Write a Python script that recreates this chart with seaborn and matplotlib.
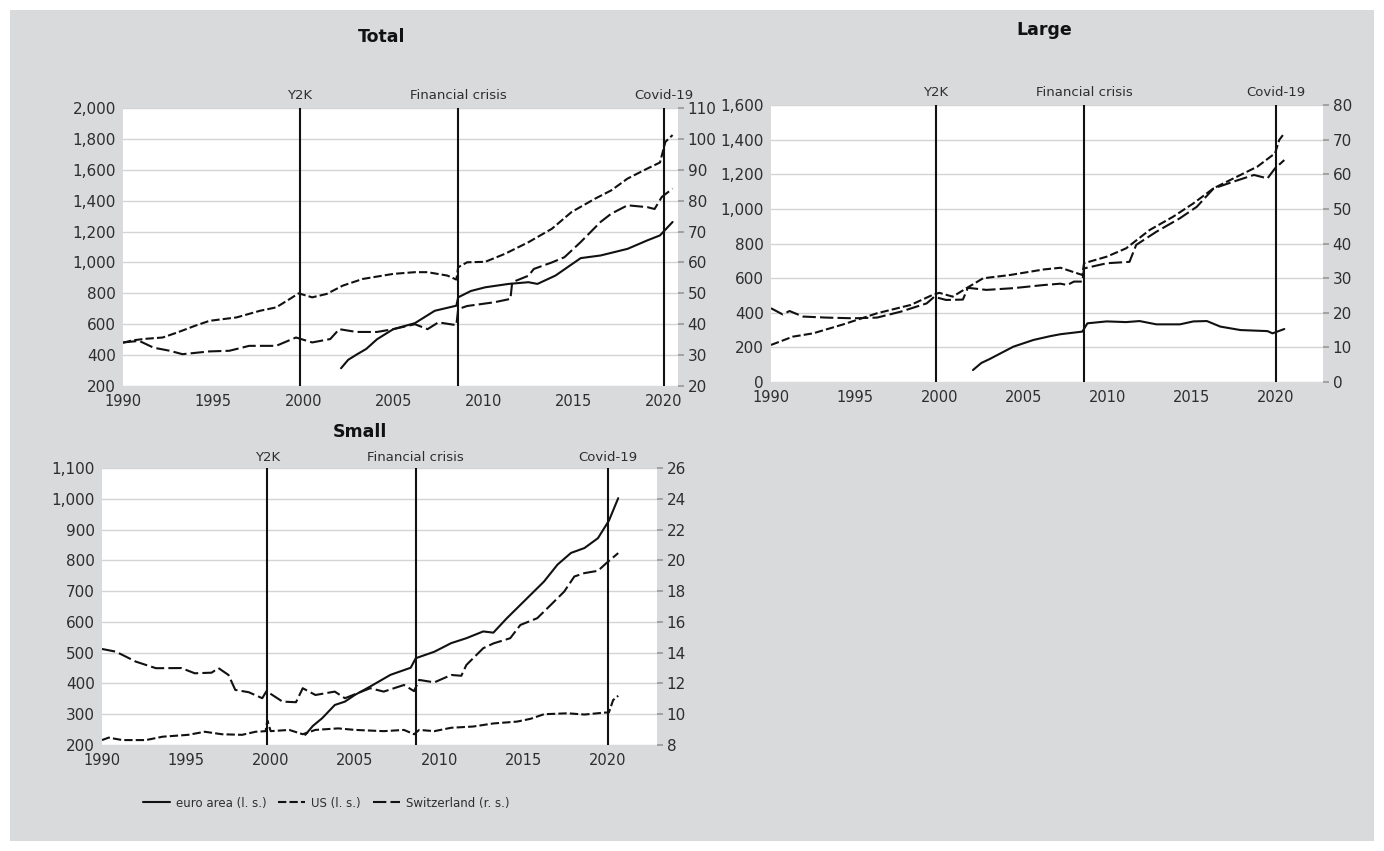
import matplotlib
matplotlib.use("Agg")
import matplotlib.pyplot as plt
import seaborn as sns
import pandas as pd
from matplotlib.lines import Line2D
from matplotlib.patches import Rectangle
from matplotlib.ticker import FuncFormatter

# ---- data ----
# Total
tot_ea_x = [2002.1, 2002.5, 2003.0, 2003.5, 2004.1, 2005.0, 2006.2, 2007.3, 2008.5, 2008.6, 2009.3,
            2010.1, 2011.4, 2012.5, 2013.0, 2014.0, 2015.4, 2016.5, 2018.0, 2019.1, 2019.8, 2020.5]
tot_ea_y = [315, 370, 406, 440, 503, 568, 607, 687, 720, 774, 815,
            839, 861, 872, 861, 915, 1028, 1045, 1088, 1143, 1175, 1262]
tot_us_x = [1990.0, 1990.5, 1991.2, 1992.2, 1993.0, 1994.0, 1994.8, 1996.3, 1997.6, 1998.5, 1999.25,
            1999.75, 2000.5, 2001.3, 2002.2, 2003.3, 2005.0, 2006.2, 2006.9, 2008.0, 2008.5, 2008.6,
            2009.1, 2010.1, 2011.2, 2012.5, 2013.8, 2014.9, 2016.2, 2017.1, 2018.0, 2019.1, 2019.8,
            2020.1, 2020.5]
tot_us_y = [480, 495, 505, 514, 546, 590, 622, 644, 687, 709, 763,
            800, 774, 796, 850, 893, 926, 937, 937, 915, 889, 969,
            1001, 1004, 1056, 1131, 1218, 1327, 1413, 1467, 1543, 1608, 1647,
            1781, 1825]
tot_ch_x = [1990.0, 1990.9, 1991.7, 1992.6, 1993.3, 1994.8, 1995.9, 1997.0, 1998.5, 1999.6, 2000.5,
            2001.5, 2002.0, 2002.95, 2004.1, 2005.0, 2006.2, 2006.9, 2007.5, 2008.5, 2008.6, 2009.1,
            2010.6, 2011.5, 2011.6, 2012.5, 2012.8, 2013.8, 2014.5, 2015.4, 2016.5, 2017.1, 2018.0,
            2019.1, 2019.5, 2019.9, 2020.5]
tot_ch_y = [34.1, 34.6, 32.4, 31.4, 30.3, 31.2, 31.4, 33.0, 33.0, 35.7, 34.1,
            35.2, 38.4, 37.5, 37.5, 38.4, 40.0, 38.4, 40.6, 39.7, 44.9, 45.9,
            47.1, 48.2, 53.6, 55.7, 57.9, 60.0, 61.7, 66.6, 73.1, 75.8, 78.5,
            77.9, 77.3, 81.2, 83.9]

# Large
lg_ea_x = [2002.0, 2002.5, 2003.0, 2004.4, 2005.6, 2006.6, 2007.2, 2008.5, 2008.8, 2009.95, 2011.1,
           2011.9, 2012.9, 2014.3, 2015.1, 2015.9, 2016.7, 2017.9, 2019.5, 2019.8, 2020.5]
lg_ea_y = [69, 110, 133, 204, 243, 265, 276, 291, 339, 350, 346,
           352, 333, 333, 350, 352, 320, 300, 294, 281, 306]
lg_us_x = [1990.0, 1991.3, 1992.5, 1994.3, 1996.3, 1998.3, 1999.6, 2000.0, 2000.8, 2001.6, 2002.6,
           2004.2, 2006.2, 2007.2, 2008.5, 2008.6, 2009.95, 2011.1, 2012.5, 2013.9, 2015.1, 2016.3,
           2017.5, 2018.9, 2019.95, 2020.2, 2020.5]
lg_us_y = [214, 262, 281, 333, 397, 445, 503, 515, 493, 541, 599,
           618, 650, 660, 618, 686, 724, 772, 878, 955, 1032, 1119,
           1177, 1244, 1321, 1398, 1437]
lg_ch_x = [1990.0, 1990.7, 1991.1, 1991.9, 1993.3, 1994.9, 1996.3, 1997.7, 1999.25, 1999.7, 2000.4,
           2001.4, 2001.7, 2002.8, 2004.4, 2006.2, 2007.2, 2007.6, 2008.0, 2008.5, 2008.6, 2009.95,
           2011.3, 2011.7, 2012.9, 2014.3, 2015.3, 2016.3, 2017.5, 2018.7, 2019.5, 2019.95, 2020.5]
lg_ch_y = [21.3, 19.5, 20.5, 18.9, 18.6, 18.4, 18.6, 20.3, 22.7, 24.6, 23.7,
           23.8, 27.2, 26.6, 27.1, 28.0, 28.4, 28.0, 29.0, 29.0, 32.8, 34.3,
           34.7, 39.6, 43.4, 47.3, 50.6, 55.9, 57.9, 59.8, 58.8, 61.7, 64.1]

# Small
sm_ea_x = [2002.05, 2002.5, 2003.05, 2003.8, 2004.4, 2005.0, 2005.9, 2007.1, 2008.3, 2008.6, 2009.7,
           2010.7, 2011.6, 2012.6, 2013.2, 2014.0, 2015.0, 2016.2, 2017.0, 2017.8, 2018.6, 2019.4,
           2020.05, 2020.6]
sm_ea_y = [233, 262, 287, 330, 341, 363, 390, 428, 451, 482, 503,
           531, 547, 569, 565, 612, 666, 731, 786, 824, 840, 872,
           929, 1002]
sm_us_x = [1990.0, 1990.4, 1991.2, 1992.6, 1993.6, 1995.1, 1996.1, 1997.1, 1998.3, 1999.1, 1999.7,
           1999.8, 2000.0, 2001.1, 2001.9, 2002.65, 2004.0, 2005.0, 2006.7, 2007.9, 2008.5, 2008.8,
           2009.7, 2010.7, 2012.0, 2013.2, 2014.6, 2015.4, 2016.2, 2017.6, 2018.6, 2019.75, 2020.05,
           2020.3, 2020.6]
sm_us_y = [216, 224, 216, 216, 227, 233, 243, 235, 233, 243, 245,
           280, 245, 249, 235, 249, 254, 249, 245, 249, 235, 249,
           245, 256, 260, 270, 276, 285, 300, 303, 299, 305, 306,
           346, 360]
sm_ch_x = [1990.0, 1990.8, 1991.2, 1992.0, 1993.2, 1994.7, 1995.5, 1996.5, 1996.9, 1997.5, 1997.9,
           1998.7, 1999.5, 1999.75, 2000.7, 2001.5, 2001.9, 2002.65, 2003.8, 2004.4, 2005.0, 2005.9,
           2006.7, 2007.9, 2008.5, 2008.8, 2009.7, 2010.7, 2011.3, 2011.6, 2012.6, 2013.2, 2014.2,
           2014.8, 2015.8, 2016.6, 2017.4, 2018.0, 2018.6, 2019.4, 2019.9, 2020.6]
sm_ch_y = [14.24, 14.07, 13.86, 13.42, 12.99, 13.0, 12.66, 12.7, 13.0, 12.55, 11.58,
           11.43, 11.04, 11.5, 10.82, 10.78, 11.69, 11.25, 11.47, 11.04, 11.3, 11.69,
           11.47, 11.9, 11.5, 12.23, 12.07, 12.55, 12.5, 13.2, 14.29, 14.6, 14.94,
           15.8, 16.24, 17.1, 17.97, 18.95, 19.17, 19.32, 19.82, 20.47]

events = ['Y2K', 'Financial crisis', 'Covid-19']
event_years = [1999.8, 2008.6, 2020.0]
legend_labels = ['euro area (l. s.)', 'US (l. s.)', 'Switzerland (r. s.)']

W, H = 1384, 851
BG = '#d9dadc'
TXT = '#2e2e2e'
LW = 1.5
styles = {'ea': '-', 'us': (0, (4.0, 1.5)), 'ch': (0, (6.4, 2.0))}


def px_rect(l, t, r, b):
    return [l / W, 1 - b / H, (r - l) / W, (b - t) / H]


def draw_line(ax, x, y, style):
    df = pd.DataFrame({'year': x, 'value': y})
    sns.lineplot(data=df, x='year', y='value', ax=ax, color='#111111', linewidth=LW,
                 linestyle=style, sort=False, estimator=None, legend=False)


def panel(fig, rect, left_lim, left_ticks, right_lim, right_ticks, xmax, series, label_off):
    ax = fig.add_axes(rect)
    ax.set_facecolor('white')
    ea, us, ch = series
    draw_line(ax, ea[0], ea[1], styles['ea'])
    draw_line(ax, us[0], us[1], styles['us'])
    ax.set_ylim(*left_lim)
    ax.set_yticks(left_ticks)
    ax.yaxis.set_major_formatter(FuncFormatter(lambda v, p: f'{int(v):,}'))
    ax.set_xlim(1990, xmax)
    ax.set_xticks(range(1990, 2021, 5))
    ax.yaxis.grid(True, color='#d4d4d4', linewidth=1.0)
    ax.xaxis.grid(False)
    ax.set_axisbelow(True)
    ax.tick_params(axis='y', length=0, pad=5, labelsize=11, labelcolor=TXT)
    ax.tick_params(axis='x', direction='in', length=4, color='#bbbbbb', pad=5.5,
                   labelsize=10.5, labelcolor=TXT)
    ax.set_xlabel('')
    ax.set_ylabel('')
    for s in ax.spines.values():
        s.set_visible(False)

    ax2 = ax.twinx()
    draw_line(ax2, ch[0], ch[1], styles['ch'])
    ax2.set_ylim(*right_lim)
    ax2.set_yticks(right_ticks)
    ax2.tick_params(axis='y', length=4, color='#9a9a9a', pad=3, labelsize=11, labelcolor=TXT)
    ax2.set_ylabel('')
    ax2.patch.set_visible(False)
    for s in ax2.spines.values():
        s.set_visible(False)

    for name, yr in zip(events, event_years):
        ax.axvline(yr, color='#111111', linewidth=1.5, zorder=5)
        ax.annotate(name, xy=(yr, 1.0), xycoords=('data', 'axes fraction'),
                    xytext=(0, label_off), textcoords='offset points',
                    ha='center', va='bottom', fontsize=9.5, color=TXT)
    return ax


sns.set_theme(style='white')
plt.rcParams['font.family'] = ['DejaVu Sans']

fig = plt.figure(figsize=(W / 100, H / 100), dpi=100, facecolor='white')
fig.patches.append(Rectangle((10 / W, 10 / H), (W - 20) / W, (H - 20) / H,
                             transform=fig.transFigure, facecolor=BG, edgecolor='none', zorder=-10))

panel(fig, px_rect(123, 108, 678, 386), (200, 2000), range(200, 2001, 200),
      (20, 110), range(20, 111, 10), 2020.8,
      [(tot_ea_x, tot_ea_y), (tot_us_x, tot_us_y), (tot_ch_x, tot_ch_y)], 4)
panel(fig, px_rect(771, 105, 1323, 382), (0, 1600), range(0, 1601, 200),
      (0, 80), range(0, 81, 10), 2022.8,
      [(lg_ea_x, lg_ea_y), (lg_us_x, lg_us_y), (lg_ch_x, lg_ch_y)], 4)
panel(fig, px_rect(102, 468, 657, 745), (200, 1100), range(200, 1101, 100),
      (8, 26), range(8, 27, 2), 2022.9,
      [(sm_ea_x, sm_ea_y), (sm_us_x, sm_us_y), (sm_ch_x, sm_ch_y)], 3)

fig.text(382 / W, 1 - 37 / H, 'Total', ha='center', va='center', fontsize=12.5,
         fontweight='bold', color='#111111')
fig.text(1044 / W, 1 - 30 / H, 'Large', ha='center', va='center', fontsize=12.5,
         fontweight='bold', color='#111111')
fig.text(360 / W, 1 - 432 / H, 'Small', ha='center', va='center', fontsize=12.5,
         fontweight='bold', color='#111111')

handles = [Line2D([], [], color='#111111', linewidth=LW, linestyle=styles[k]) for k in ['ea', 'us', 'ch']]
fig.legend(handles, legend_labels, loc='center', bbox_to_anchor=(326 / W, 1 - 803 / H),
           ncol=3, frameon=False, fontsize=8.5, handlelength=2.3, handletextpad=0.5,
           columnspacing=1.0, labelcolor=TXT)

fig.savefig('out.png', dpi=100, facecolor='white')
